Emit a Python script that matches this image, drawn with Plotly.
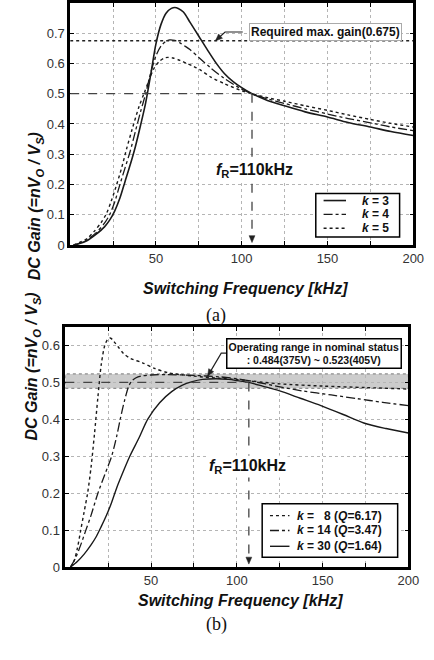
import plotly.graph_objects as go

# ---------------- data (a) ----------------
a_k3_x = [2, 5, 10, 15, 20, 23, 26, 29, 32, 35, 38, 41, 44, 47, 50, 53, 56, 59, 61, 63, 66, 70, 75, 80, 85, 90, 95, 100, 106, 115, 125, 137, 150, 162, 175, 187, 200]
a_k3_y = [0, 0.004, 0.015, 0.035, 0.06, 0.082, 0.113, 0.155, 0.21, 0.265, 0.325, 0.395, 0.47, 0.565, 0.665, 0.73, 0.767, 0.782, 0.785, 0.782, 0.77, 0.735, 0.69, 0.645, 0.602, 0.566, 0.54, 0.52, 0.50, 0.478, 0.46, 0.44, 0.423, 0.405, 0.39, 0.375, 0.362]

a_k4_x = [2, 5, 10, 15, 20, 23, 26, 29, 32, 35, 38, 41, 44, 47, 50, 53, 56, 58, 61, 64, 67, 70, 75, 82, 90, 100, 106, 115, 125, 137, 150, 162, 175, 187, 200]
a_k4_y = [0, 0.005, 0.018, 0.04, 0.072, 0.10, 0.143, 0.20, 0.255, 0.31, 0.375, 0.44, 0.50, 0.57, 0.625, 0.658, 0.674, 0.678, 0.676, 0.668, 0.657, 0.645, 0.62, 0.585, 0.55, 0.515, 0.50, 0.483, 0.468, 0.45, 0.433, 0.418, 0.404, 0.39, 0.378]

a_k5_x = [2, 5, 10, 14, 18, 21, 24, 27, 30, 33, 36, 40, 43, 46, 49, 52, 55, 57, 60, 64, 68, 72, 76, 82, 90, 100, 106, 115, 125, 137, 150, 162, 175, 187, 200]
a_k5_y = [0, 0.007, 0.022, 0.045, 0.074, 0.102, 0.146, 0.198, 0.255, 0.32, 0.38, 0.455, 0.50, 0.545, 0.585, 0.607, 0.618, 0.62, 0.618, 0.61, 0.60, 0.59, 0.578, 0.555, 0.533, 0.51, 0.50, 0.487, 0.475, 0.46, 0.445, 0.43, 0.415, 0.402, 0.39]

a_labels = ["<b><i>k</i> = 3</b>", "<b><i>k</i> = 4</b>", "<b><i>k</i> = 5</b>"]

# ---------------- data (b) ----------------
b_k8_x = [3, 5, 7, 9, 11, 13, 15, 17, 19, 21, 23, 24.5, 26, 27.5, 29, 31, 34, 38, 45, 52, 60, 75, 90, 100, 110, 125, 150, 175, 200]
b_k8_y = [0, 0.015, 0.05, 0.10, 0.15, 0.20, 0.27, 0.36, 0.46, 0.55, 0.60, 0.615, 0.62, 0.616, 0.607, 0.595, 0.578, 0.565, 0.553, 0.538, 0.526, 0.517, 0.511, 0.508, 0.503, 0.496, 0.49, 0.486, 0.482]

b_k14_x = [3, 6, 9, 12, 15, 19, 23, 27, 30, 32, 34.5, 37, 39, 41, 44, 50, 60, 75, 90, 100, 110, 123, 138, 155, 170, 185, 200]
b_k14_y = [0, 0.025, 0.06, 0.10, 0.14, 0.20, 0.25, 0.30, 0.355, 0.40, 0.45, 0.49, 0.505, 0.512, 0.517, 0.52, 0.521, 0.519, 0.515, 0.51, 0.502, 0.49, 0.477, 0.466, 0.456, 0.446, 0.437]

b_k30_x = [3, 7, 11, 15, 18, 21, 24, 27, 30, 33, 37.6, 43, 48, 55, 62, 68, 74, 80, 88, 95, 100, 107, 115, 125, 137, 149, 162, 174, 187, 200]
b_k30_y = [0, 0.015, 0.035, 0.06, 0.082, 0.11, 0.14, 0.175, 0.215, 0.25, 0.30, 0.35, 0.40, 0.445, 0.475, 0.492, 0.502, 0.508, 0.51, 0.508, 0.505, 0.50, 0.49, 0.477, 0.457, 0.437, 0.413, 0.39, 0.375, 0.363]

b_labels = ["<b><i>k</i> =   8 (<i>Q</i>=6.17)</b>", "<b><i>k</i> = 14 (<i>Q</i>=3.47)</b>", "<b><i>k</i> = 30 (<i>Q</i>=1.64)</b>"]

x_major = [50, 100, 150, 200]
x_minor = [25, 75, 125, 175]
a_y_ticks = [0, 0.1, 0.2, 0.3, 0.4, 0.5, 0.6, 0.7]
b_y_ticks = [0, 0.1, 0.2, 0.3, 0.4, 0.5, 0.6]

required_gain = 0.675
f_res = 106
band_lo, band_hi = 0.484, 0.523

# ---------------- geometry ----------------
W, H = 434, 660
A = dict(x0=72, x1=424, y0=248, y1=3, xr=(0, 200), yr=(0, 0.8))      # pixel box of plot (a)
B = dict(x0=67, x1=419, y0=574, y1=331, xr=(0, 200), yr=(0, 0.65))    # pixel box of plot (b)


def to_px(P, x, y):
    px = P["x0"] + (x - P["xr"][0]) / (P["xr"][1] - P["xr"][0]) * (P["x1"] - P["x0"])
    py = P["y0"] + (y - P["yr"][0]) / (P["yr"][1] - P["yr"][0]) * (P["y1"] - P["y0"])
    return px, py


def to_data(P, px, py):
    x = P["xr"][0] + (px - P["x0"]) / (P["x1"] - P["x0"]) * (P["xr"][1] - P["xr"][0])
    y = P["yr"][0] + (py - P["y0"]) / (P["y1"] - P["y0"]) * (P["yr"][1] - P["yr"][0])
    return x, y


def head_path(P, tip, frm, L=7.0, hw=3.0):
    tx, ty = to_px(P, *tip)
    fx, fy = to_px(P, *frm)
    dx, dy = tx - fx, ty - fy
    n = (dx * dx + dy * dy) ** 0.5
    ux, uy = dx / n, dy / n
    bx, by = tx - L * ux, ty - L * uy
    px_, py_ = -uy, ux
    c1 = to_data(P, bx + hw * px_, by + hw * py_)
    c2 = to_data(P, bx - hw * px_, by - hw * py_)
    return f"M {tip[0]},{tip[1]} L {c1[0]},{c1[1]} L {c2[0]},{c2[1]} Z"


def pxp(px):
    return px / W


def pyp(py):
    return 1 - py / H


FONT = "Arial, Liberation Sans, sans-serif"
LC = "#1a1a1a"

fig = go.Figure()

styles = [("solid", 1.6), ("dashdot", 1.3), ("dot", 1.4)]
for (xs, ys), (dash, w) in zip([(a_k3_x, a_k3_y), (a_k4_x, a_k4_y), (a_k5_x, a_k5_y)], styles):
    fig.add_trace(go.Scatter(x=xs, y=ys, mode="lines", showlegend=False,
                             line=dict(color=LC, width=w, dash=dash, shape="spline", smoothing=0.8),
                             xaxis="x", yaxis="y"))

b_styles = [("dot", 1.4), ("dashdot", 1.3), ("solid", 1.4)]
for (xs, ys), (dash, w) in zip([(b_k8_x, b_k8_y), (b_k14_x, b_k14_y), (b_k30_x, b_k30_y)], b_styles):
    fig.add_trace(go.Scatter(x=xs, y=ys, mode="lines", showlegend=False,
                             line=dict(color=LC, width=w, dash=dash, shape="spline", smoothing=0.8),
                             xaxis="x2", yaxis="y2"))

grid = dict(showgrid=True, gridcolor="#b5b5b5", griddash="dot", gridwidth=1)
axis_common = dict(showline=True, linecolor="black", linewidth=2.5, mirror="allticks",
                   ticks="inside", ticklen=4, tickcolor="black", tickwidth=1,
                   zeroline=False, tickfont=dict(family=FONT, size=13, color="#333"), **grid)
xminor = dict(tickvals=x_minor, ticks="inside", ticklen=4, tickcolor="black", **grid)

fig.update_layout(
    width=W, height=H, autosize=False,
    margin=dict(l=0, r=0, t=0, b=0),
    paper_bgcolor="white", plot_bgcolor="white",
    font=dict(family=FONT, color="#222"),
    showlegend=False,
    xaxis=dict(domain=[pxp(A["x0"]), pxp(A["x1"])], range=list(A["xr"]), tickvals=x_major, minor=xminor, anchor="y", **axis_common),
    yaxis=dict(domain=[pyp(A["y0"]), pyp(A["y1"])], range=list(A["yr"]), tickvals=a_y_ticks, anchor="x", **axis_common),
    xaxis2=dict(domain=[pxp(B["x0"]), pxp(B["x1"])], range=list(B["xr"]), tickvals=x_major, minor=xminor, anchor="y2", **axis_common),
    yaxis2=dict(domain=[pyp(B["y0"]), pyp(B["y1"])], range=list(B["yr"]), tickvals=b_y_ticks, anchor="x2", **axis_common),
)

shapes = []
# ---------- (a) ----------
shapes.append(dict(type="line", xref="x", yref="y", x0=0, x1=200, y0=required_gain, y1=required_gain,
                   line=dict(color="#222", width=1.5, dash="dot")))
shapes.append(dict(type="line", xref="x", yref="y", x0=0, x1=f_res, y0=0.5, y1=0.5,
                   line=dict(color="#444", width=1.2, dash="dash")))
shapes.append(dict(type="line", xref="x", yref="y", x0=f_res, x1=f_res, y0=0.5, y1=0.03,
                   line=dict(color="#333", width=1.2, dash="dash")))
shapes.append(dict(type="path", xref="x", yref="y", path=head_path(A, (f_res, 0.008), (f_res, 0.1)),
                   fillcolor="#222", line=dict(color="#222", width=0.5)))
# leader of "Required max. gain"
a_lead_tip = (84.7, required_gain)
a_lead_knee = (90.3, 0.704)
a_lead_end = (100.6, 0.704)
shapes.append(dict(type="path", xref="x", yref="y",
                   path=f"M {a_lead_end[0]},{a_lead_end[1]} L {a_lead_knee[0]},{a_lead_knee[1]} L {a_lead_tip[0]},{a_lead_tip[1]}",
                   line=dict(color="#222", width=1.2)))
shapes.append(dict(type="path", xref="x", yref="y", path=head_path(A, a_lead_tip, a_lead_knee),
                   fillcolor="#222", line=dict(color="#222", width=0.5)))

# ---------- (b) ----------
shapes.append(dict(type="rect", xref="x2", yref="y2", x0=0, x1=200, y0=band_lo, y1=band_hi,
                   fillcolor="#cccccc", line=dict(color="#777", width=1, dash="dot"), layer="below"))
shapes.append(dict(type="line", xref="x2", yref="y2", x0=0, x1=f_res + 1, y0=0.5, y1=0.5,
                   line=dict(color="#444", width=1.2, dash="dash")))
shapes.append(dict(type="line", xref="x2", yref="y2", x0=f_res + 1, x1=f_res + 1, y0=0.5, y1=0.03,
                   line=dict(color="#333", width=1.2, dash="dash")))
shapes.append(dict(type="path", xref="x2", yref="y2", path=head_path(B, (f_res + 1, 0.008), (f_res + 1, 0.1)),
                   fillcolor="#222", line=dict(color="#222", width=0.5)))
b_lead_tip = (83.0, 0.517)
b_lead_knee = (90.9, 0.579)
b_lead_end = (93.7, 0.579)
shapes.append(dict(type="path", xref="x2", yref="y2",
                   path=f"M {b_lead_end[0]},{b_lead_end[1]} L {b_lead_knee[0]},{b_lead_knee[1]} L {b_lead_tip[0]},{b_lead_tip[1]}",
                   line=dict(color="#222", width=1.2)))
shapes.append(dict(type="path", xref="x2", yref="y2", path=head_path(B, b_lead_tip, b_lead_knee),
                   fillcolor="#222", line=dict(color="#222", width=0.5)))

# ---------- legends (drawn) ----------
ann = []
# (a) legend
shapes.append(dict(type="rect", xref="paper", yref="paper", x0=pxp(324), x1=pxp(410), y0=pyp(240), y1=pyp(196),
                   fillcolor="white", line=dict(color="black", width=1.5)))
for row_y, (dash, w), lab in zip([203, 217, 231], styles, a_labels):
    shapes.append(dict(type="line", xref="paper", yref="paper", x0=pxp(332), x1=pxp(355), y0=pyp(row_y), y1=pyp(row_y),
                       line=dict(color=LC, width=w, dash=dash)))
    ann.append(dict(xref="paper", yref="paper", x=pxp(401), y=pyp(row_y), xanchor="right", yanchor="middle",
                    text=lab, showarrow=False, font=dict(family=FONT, size=12, color="#111")))
# (b) legend
shapes.append(dict(type="rect", xref="paper", yref="paper", x0=pxp(269), x1=pxp(408), y0=pyp(564), y1=pyp(510),
                   fillcolor="white", line=dict(color="black", width=1.5)))
for row_y, (dash, w), lab in zip([522, 537, 553], b_styles, b_labels):
    shapes.append(dict(type="line", xref="paper", yref="paper", x0=pxp(277), x1=pxp(297), y0=pyp(row_y), y1=pyp(row_y),
                       line=dict(color=LC, width=w, dash=dash)))
    ann.append(dict(xref="paper", yref="paper", x=pxp(303), y=pyp(row_y), xanchor="left", yanchor="middle",
                    text=lab, showarrow=False, font=dict(family=FONT, size=12, color="#111")))

# ---------- text annotations ----------
ax_, ay_ = to_data(A, 334, 32)
ann.append(dict(xref="x", yref="y", x=ax_, y=ay_, text="<b>Required max. gain(0.675)</b>",
                showarrow=False, font=dict(family=FONT, size=12, color="#111"), bgcolor="white",
                bordercolor="#aaa", borderwidth=1, borderpad=1))
fx_, fy_ = to_data(A, 261, 173)
ann.append(dict(xref="x", yref="y", x=fx_, y=fy_, text="<b><i>f</i><sub>R</sub>=110kHz</b>",
                showarrow=False, font=dict(family=FONT, size=16, color="#111"), bgcolor="white", borderpad=1))
fx2, fy2 = to_data(B, 254, 472)
ann.append(dict(xref="x2", yref="y2", x=fx2, y=fy2, text="<b><i>f</i><sub>R</sub>=110kHz</b>",
                showarrow=False, font=dict(family=FONT, size=16, color="#111"), bgcolor="white", borderpad=1))
ox, oy = to_data(B, 322, 358)
ann.append(dict(xref="x2", yref="y2", x=ox, y=oy,
                text="<b>Operating range in nominal status<br>: 0.484(375V) ~ 0.523(405V)</b>",
                showarrow=False, font=dict(family=FONT, size=10.5, color="#111"), bgcolor="white",
                bordercolor="black", borderwidth=1.5, borderpad=1, align="center"))

ytitle = "<b><i>DC Gain (=nV<sub>O</sub> / V<sub>S</sub>)</i></b>"
xtitle = "<b><i>Switching Frequency [kHz]</i></b>"
ann.append(dict(xref="paper", yref="paper", x=pxp(25), y=pyp(132), text=ytitle, textangle=-90, showarrow=False,
                font=dict(family=FONT, size=16, color="#111")))
ann.append(dict(xref="paper", yref="paper", x=pxp(22), y=pyp(448), text=ytitle, textangle=-90, showarrow=False,
                font=dict(family=FONT, size=16, color="#111")))
ann.append(dict(xref="paper", yref="paper", x=pxp(252), y=pyp(292), text=xtitle, showarrow=False,
                font=dict(family=FONT, size=16, color="#111")))
ann.append(dict(xref="paper", yref="paper", x=pxp(247), y=pyp(618), text=xtitle, showarrow=False,
                font=dict(family=FONT, size=16, color="#111")))
ann.append(dict(xref="paper", yref="paper", x=pxp(222), y=pyp(319), text="(a)", showarrow=False,
                font=dict(family="Liberation Serif, Times New Roman, serif", size=18, color="#111")))
ann.append(dict(xref="paper", yref="paper", x=pxp(222), y=pyp(645), text="(b)", showarrow=False,
                font=dict(family="Liberation Serif, Times New Roman, serif", size=18, color="#111")))

fig.update_layout(shapes=shapes, annotations=ann)

fig.write_html("out.html")
